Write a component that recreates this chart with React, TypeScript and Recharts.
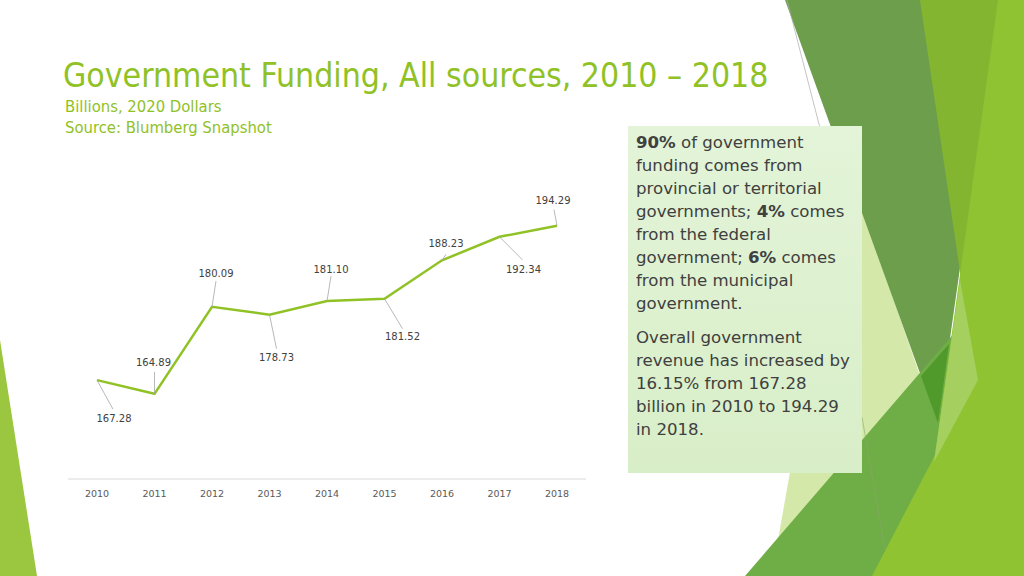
import React from 'react';
import { LineChart, Line, XAxis, YAxis } from 'recharts';

// Government funding, billions of 2020 dollars
const years = ['2010', '2011', '2012', '2013', '2014', '2015', '2016', '2017', '2018'];
const funding = [167.28, 164.89, 180.09, 178.73, 181.1, 181.52, 188.23, 192.34, 194.29];

// where each value label sits relative to its point (leader end + text centre)
const labelOffsets = [
  { lx: 16, ly: 29, tx: 17, ty: 38 },
  { lx: 0, ly: -22, tx: -1, ty: -31 },
  { lx: 4, ly: -26, tx: 4, ty: -33 },
  { lx: 7, ly: 34, tx: 7, ty: 43 },
  { lx: 4, ly: -25, tx: 4, ty: -32 },
  { lx: 18, ly: 30, tx: 18, ty: 38 },
  { lx: 4, ly: -6, tx: 4, ty: -17 },
  { lx: 23, ly: 23, tx: 24, ty: 33 },
  { lx: -3, ly: -16, tx: -4, ty: -25 },
];

const chartData = years.map((year, i) => ({ year, value: funding[i] }));

const GREEN = '#90C226';

const renderPoint = (props: any) => {
  const { cx, cy, index, value } = props;
  const o = labelOffsets[index];
  return (
    <g key={`pt-${index}`}>
      <line x1={cx} y1={cy} x2={cx + o.lx} y2={cy + o.ly} stroke="#a6a6a6" strokeWidth={0.8} />
      <text
        x={cx + o.tx}
        y={cy + o.ty}
        textAnchor="middle"
        dominantBaseline="central"
        fontFamily="DejaVu Sans"
        fontSize={10}
        fill="#404040"
      >
        {Number(value).toFixed(2)}
      </text>
    </g>
  );
};

const Decoration = () => (
  <svg width={1024} height={576} style={{ position: 'absolute', left: 0, top: 0 }}>
    <polygon points="0,340 37,576 0,576" fill="#9BC63F" />
    <polygon points="845,160 925,390 778,540" fill="#D4E9A9" />
    <polygon points="785,0 998,0 938,423" fill="#6C9E4B" />
    <polygon points="920,0 1000,0 963,292" fill="#84B531" />
    <polygon points="745,576 1024,252 1024,576" fill="#6FAD46" />
    <polygon points="921,376 949,344 938,423" fill="#4F9A2B" />
    <polygon points="998,0 1024,0 1024,576 872,576 935,455" fill="#90C332" />
    <polygon points="960,280 978,380 934,462 940,420" fill="#A5CF5E" />
    <line x1={787} y1={0} x2={820} y2={128} stroke="#aaaaaa" strokeWidth={0.7} />
    <line x1={862} y1={417} x2={885} y2={550} stroke="#8aa86a" strokeWidth={0.6} />
  </svg>
);

const App = () => {
  return (
    <div
      style={{
        position: 'absolute',
        left: 0,
        top: 0,
        width: 1024,
        height: 576,
        background: '#ffffff',
        overflow: 'hidden',
        fontFamily: 'DejaVu Sans',
      }}
    >
      <Decoration />

      <div
        style={{
          position: 'absolute',
          left: 63,
          top: 57,
          fontFamily: 'DejaVu Sans Condensed',
          fontSize: 33.5,
          lineHeight: '38px',
          color: GREEN,
          whiteSpace: 'nowrap',
        }}
      >
        Government Funding, All sources, 2010 – 2018
      </div>
      <div
        style={{
          position: 'absolute',
          left: 65,
          top: 96,
          fontFamily: 'DejaVu Sans Condensed',
          fontSize: 16.5,
          lineHeight: '21px',
          color: GREEN,
          whiteSpace: 'nowrap',
        }}
      >
        Billions, 2020 Dollars
        <br />
        Source: Blumberg Snapshot
      </div>

      <div style={{ position: 'absolute', left: 60, top: 180 }}>
        <LineChart width={540} height={330} data={chartData} margin={{ top: 13, right: 14, left: 8, bottom: 0 }}>
          <XAxis
            dataKey="year"
            height={31}
            padding={{ left: 29, right: 29 }}
            axisLine={{ stroke: '#d9d9d9' }}
            tickLine={false}
            tickMargin={5}
            tick={{ fontSize: 9.5, fill: '#595959', fontFamily: 'DejaVu Sans' }}
          />
          <YAxis hide domain={[150, 200]} />
          <Line
            type="linear"
            dataKey="value"
            stroke={GREEN}
            strokeWidth={2.5}
            dot={renderPoint}
            activeDot={false}
            isAnimationActive={false}
          />
        </LineChart>
      </div>

      <div
        style={{
          position: 'absolute',
          left: 628,
          top: 126,
          width: 234,
          height: 347,
          boxSizing: 'border-box',
          padding: '5px 0 0 8px',
          background: 'linear-gradient(180deg, #e3f4d8 0%, #d8eec8 100%)',
          color: '#404040',
          fontSize: 16.6,
          lineHeight: '23px',
          whiteSpace: 'nowrap',
        }}
      >
        <div>
          <b>90%</b> of government
          <br />
          funding comes from
          <br />
          provincial or territorial
          <br />
          governments; <b>4%</b> comes
          <br />
          from the federal
          <br />
          government; <b>6%</b> comes
          <br />
          from the municipal
          <br />
          government.
        </div>
        <div style={{ marginTop: 11 }}>
          Overall government
          <br />
          revenue has increased by
          <br />
          16.15% from 167.28
          <br />
          billion in 2010 to 194.29
          <br />
          in 2018.
        </div>
      </div>
    </div>
  );
};

export default App;
